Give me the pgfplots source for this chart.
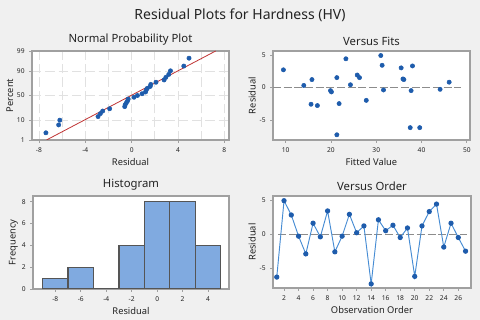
\documentclass[border=0pt]{standalone}
\usepackage{fontspec}
\setmainfont{Noto Sans}
\usepackage{pgfplots}
\pgfplotsset{compat=1.18}

\definecolor{bg}{RGB}{240,240,240}
\definecolor{frame}{RGB}{160,160,160}
\definecolor{txt}{RGB}{35,35,35}
\definecolor{ptblue}{RGB}{30,92,172}
\definecolor{lnblue}{RGB}{70,140,212}
\definecolor{barfill}{RGB}{128,170,224}
\definecolor{baredge}{RGB}{85,85,85}
\definecolor{fitred}{RGB}{192,52,52}
\definecolor{gridc}{RGB}{225,225,225}

\pgfplotsset{
  panel/.style={
    scale only axis,
    axis background/.style={fill=white},
    axis line style={draw=frame, line width=0.8pt},
    tick align=outside,
    major tick length=2pt,
    tick style={draw=frame, line width=0.5pt},
    xtick pos=lower, ytick pos=left,
    ticklabel style={font=\fontsize{5}{6}\selectfont\bfseries, text=txt},
    label style={font=\fontsize{7}{8}\selectfont, text=txt},
    title style={font=\fontsize{8.5}{10}\selectfont, text=txt, yshift=-5.5pt},
    /pgf/number format/assume math mode=true,
    ylabel shift=-4pt,
    xlabel shift=-2pt,
  },
  dots/.style={only marks, mark=*, mark size=1.6pt, mark options={fill=ptblue, draw=ptblue}},
  zero/.style={draw=gray!90, line width=0.6pt, dash pattern=on 6pt off 2pt},
}

\begin{document}
\begin{tikzpicture}
\fill[bg] (0,0) rectangle (360pt,240pt);
\path[use as bounding box] (0,0) rectangle (360pt,240pt);

\node[font=\fontsize{10.5}{12}\selectfont, text=txt] at (180pt,228.5pt) {Residual Plots for Hardness (HV)};

% Normal probability plot (percent axis drawn on the normal score scale)
\begin{axis}[panel,
  at={(24pt,135pt)}, anchor=south west,
  width=147.75pt, height=66.75pt,
  title={Normal Probability Plot},
  xlabel={Residual}, ylabel={Percent},
  xmin=-8.6, xmax=8.4, ymin=-2.3263, ymax=2.3263,
  xtick={-8,-4,0,4,8},
  minor xtick={-6,-2,2,6},
  ytick={-2.3263,-1.2816,0,1.2816,2.3263},
  yticklabels={1,10,50,90,99},
  grid=both,
  major grid style={draw=gridc, line width=0.6pt, dash pattern=on 7pt off 3pt},
  minor grid style={draw=gridc, line width=0.6pt, dash pattern=on 7pt off 3pt},
  minor tick length=0pt,
]
\addplot[fitred, line width=0.6pt] coordinates {(-7.35,-2.3263) (7.25,2.3263)};
\addplot[dots] coordinates {
(-7.4,-1.951) (-6.3,-1.538) (-6.2,-1.290) (-2.9,-1.103) (-2.7,-0.948)
(-2.5,-0.813) (-1.9,-0.692) (-0.6,-0.580) (-0.55,-0.474) (-0.45,-0.374)
(-0.35,-0.278) (-0.3,-0.184) (0.2,-0.092) (0.5,0) (0.9,0.092)
(1.2,0.184) (1.25,0.278) (1.35,0.374) (1.6,0.474) (1.65,0.580)
(2.1,0.692) (2.8,0.813) (2.95,0.948) (3.2,1.103) (3.35,1.290)
(4.5,1.538) (4.95,1.951)};
\end{axis}

% Versus fits
\begin{axis}[panel,
  at={(204.75pt,135pt)}, anchor=south west,
  width=147.75pt, height=66.75pt,
  title={Versus Fits},
  xlabel={Fitted Value}, ylabel={Residual},
  xmin=7.2, xmax=50.7, ymin=-8.1, ymax=5.6,
  xtick={10,20,30,40,50}, ytick={-5,0,5},
]
\addplot[zero] coordinates {(7.2,0) (48.8,0)};
\addplot[dots] coordinates {
(9.5,2.7) (14,0.3) (15.8,1.2) (15.6,-2.6) (17,-2.8)
(19.9,-0.5) (20.1,-0.7) (21.3,1.5) (21.3,-7.3) (21.8,-2.5)
(23.3,4.4) (24.3,0.4) (25.8,1.9) (26.3,1.5) (27.8,-2.0)
(31.0,4.9) (31.3,3.4) (31.6,-0.4) (35.5,3.0) (35.9,1.3)
(36.1,1.2) (37.5,-6.2) (37.7,-0.5) (38.0,3.3) (39.6,-6.2)
(44.1,-0.3) (46.1,0.8)};
\end{axis}

% Histogram
\begin{axis}[panel,
  at={(24.75pt,23.25pt)}, anchor=south west,
  width=147pt, height=69.75pt,
  title={Histogram},
  xlabel={Residual}, ylabel={Frequency},
  xmin=-9.75, xmax=5.64, ymin=0, ymax=8.53,
  xtick={-8,-6,-4,-2,0,2,4}, ytick={0,2,4,6,8},
]
\addplot[ybar interval, fill=barfill, draw=baredge, line width=0.8pt] coordinates {
(-9,1) (-7,2) (-5,0) (-3,4) (-1,8) (1,8) (3,4) (5,4)};
\end{axis}

% Versus order
\begin{axis}[panel,
  at={(204.75pt,24pt)}, anchor=south west,
  width=148.5pt, height=69pt,
  title={Versus Order},
  xlabel={Observation Order}, ylabel={Residual},
  xmin=0.48, xmax=27.75, ymin=-7.9, ymax=5.59,
  xtick={2,4,...,26}, ytick={-5,0,5},
]
\addplot[zero] coordinates {(1.2,0) (27.2,0)};
\addplot[lnblue, line width=0.7pt, mark=*, mark size=1.6pt, mark options={fill=ptblue, draw=ptblue}] coordinates {
(1,-6.3) (2,4.9) (3,2.8) (4,-0.3) (5,-2.9) (6,1.6) (7,-0.4) (8,3.4) (9,-2.6)
(10,-0.3) (11,2.9) (12,0.2) (13,1.2) (14,-7.3) (15,2.1) (16,0.5) (17,1.3)
(18,-0.5) (19,0.9) (20,-6.2) (21,1.2) (22,3.3) (23,4.4) (24,-1.9) (25,1.6)
(26,-0.5) (27,-2.5)};
\end{axis}
\end{tikzpicture}
\end{document}
